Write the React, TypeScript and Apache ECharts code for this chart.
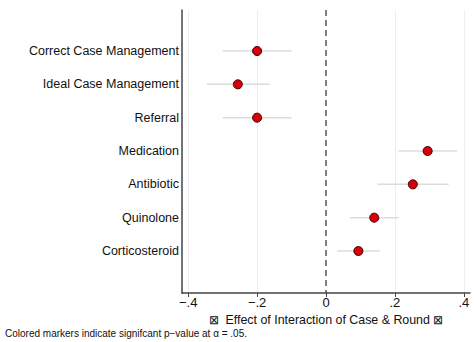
import React, { useEffect, useRef } from "react";
import * as echarts from "echarts";

const categories = [
  "Correct Case Management",
  "Ideal Case Management",
  "Referral",
  "Medication",
  "Antibiotic",
  "Quinolone",
  "Corticosteroid",
];
const estimates = [-0.2, -0.256, -0.2, 0.295, 0.252, 0.14, 0.094];
const lower = [-0.3, -0.346, -0.3, 0.21, 0.149, 0.07, 0.033];
const upper = [-0.1, -0.164, -0.1, 0.381, 0.356, 0.211, 0.157];
const xTicks = [-0.4, -0.2, 0, 0.2, 0.4];
const gridLines = [-0.4, -0.2, 0.2, 0.4];
const xTitle = "\u22A0  Effect of Interaction of Case & Round \u22A0";
const footnote = "Colored markers indicate signifcant p\u2212value at \u03B1 = .05.";

const fmt = (v: number) => {
  if (Math.abs(v) < 1e-9) return "0";
  const s = Math.abs(v).toFixed(1).replace(/^0/, "");
  return (v < 0 ? "\u2212" : "") + s;
};

export default function App() {
  const ref = useRef<HTMLDivElement>(null);
  useEffect(() => {
    const chart = echarts.init(ref.current!, undefined, { renderer: "svg" });
    const font = "'Liberation Sans', Arial, sans-serif";
    chart.setOption({
      animation: false,
      backgroundColor: "#fff",
      grid: { left: 182, right: 4, top: 10, bottom: 49, containLabel: false },
      xAxis: {
        type: "value",
        min: -0.418,
        max: 0.418,
        axisLine: { show: true, onZero: false, lineStyle: { color: "#444", width: 1.5 } },
        axisTick: { show: true, length: 4, customValues: xTicks, lineStyle: { color: "#444" } },
        axisLabel: {
          customValues: xTicks,
          formatter: (v: number) => fmt(v),
          color: "#111",
          fontSize: 13,
          fontFamily: font,
          margin: 3,
        },
        splitLine: { show: false },
        name: xTitle,
        nameLocation: "middle",
        nameGap: 19,
        nameTextStyle: { color: "#111", fontSize: 12.4, fontFamily: font },
      },
      yAxis: {
        type: "value",
        inverse: true,
        min: -1.23,
        max: 7.26,
        axisLine: { show: true, onZero: false, lineStyle: { color: "#444", width: 1.5 } },
        axisTick: { show: false },
        axisLabel: {
          customValues: categories.map((_, i) => i),
          formatter: (v: number) => categories[Math.round(v)] ?? "",
          color: "#111",
          fontSize: 12.5,
          fontFamily: font,
          margin: 3,
        },
        splitLine: { show: false },
      },
      graphic: [
        {
          type: "text",
          left: 5,
          top: 328,
          style: { text: footnote, fill: "#111", font: `10px ${font}` },
        },
      ],
      series: [
        {
          type: "scatter",
          z: 0,
          data: [],
          markLine: {
            silent: true,
            symbol: "none",
            z: 0,
            label: { show: false },
            data: [
              ...gridLines.map((x) => ({
                xAxis: x,
                lineStyle: { color: "#eeeeee", width: 1, type: "solid" },
              })),
              { xAxis: 0, lineStyle: { color: "#555", width: 1.5, type: [6, 4] } },
            ],
          },
        },
        {
          type: "custom",
          z: 2,
          data: categories.map((_, i) => [lower[i], upper[i], i]),
          renderItem: (params: any, api: any) => {
            const p1 = api.coord([api.value(0), api.value(2)]);
            const p2 = api.coord([api.value(1), api.value(2)]);
            return {
              type: "line",
              shape: { x1: p1[0], y1: p1[1], x2: p2[0], y2: p2[1] },
              style: { stroke: "#dcdcdc", lineWidth: 1.5 },
            };
          },
        },
        {
          type: "scatter",
          z: 5,
          symbol: "circle",
          symbolSize: 9,
          data: categories.map((_, i) => [estimates[i], i]),
          itemStyle: { color: "#d8000a", borderColor: "#3a0000", borderWidth: 1, opacity: 1 },
        },
      ],
    });
    return () => chart.dispose();
  }, []);
  return <div ref={ref} style={{ width: 474, height: 342, position: "absolute", left: 0, top: 0 }} />;
}
